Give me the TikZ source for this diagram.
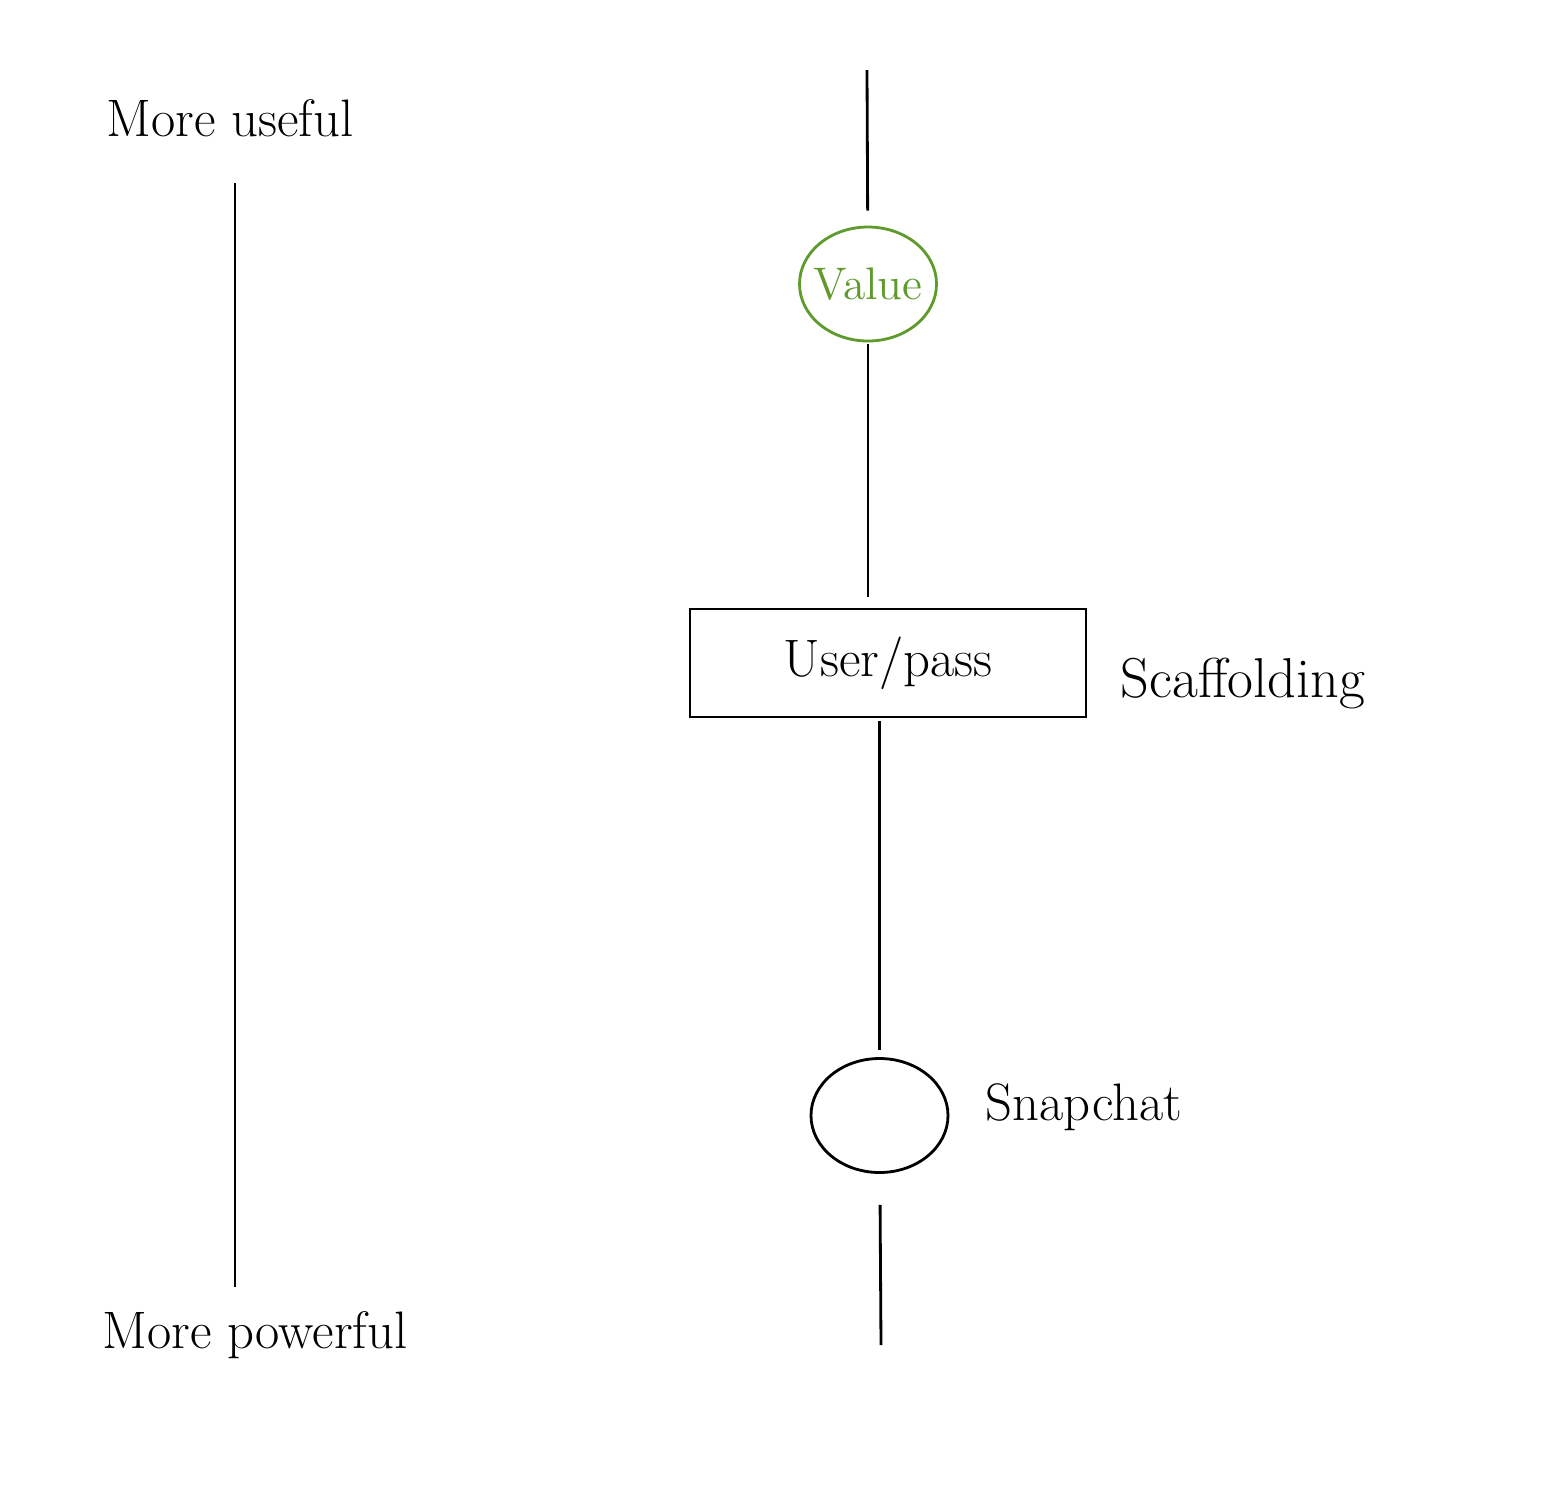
\documentclass[tikz,border=0pt]{standalone}
\usepackage{xcolor}
\usetikzlibrary{shapes.geometric}
\definecolor{valuegreen}{HTML}{5F9A2C}
\tikzset{
  stroke/.style={line width=0.8pt, black},
  lbl/.style={font=\fontsize{15}{18}\selectfont, inner sep=0pt},
  oval/.style={ellipse, draw, line width=0.8pt, minimum width=1.37cm, minimum height=1.14cm, inner sep=0pt}
}
\begin{document}
\begin{tikzpicture}
\useasboundingbox (0,0) rectangle (15.44,-14.86);

% left axis
\node[lbl] (useful) at (2.30,-1.18) {More useful};
\node[lbl] (powerful) at (2.55,-13.35) {More powerful};
\coordinate (axtop) at (2.35,-1.83);
\coordinate (axbot) at (2.35,-12.87);
\draw[stroke] (axtop) -- (axbot);

% main line
\coordinate (top) at (8.67,-0.70);
\node[oval, draw=valuegreen, text=valuegreen, inner xsep=-0.12cm, font=\fontsize{13}{16}\selectfont] (value) at (8.68,-2.84) {Value};
\node[draw, line width=0.8pt, minimum width=3.96cm, minimum height=1.08cm, font=\fontsize{15}{18}\selectfont] (user) at (8.88,-6.63) {User/pass};
\node[lbl, anchor=west, font=\fontsize{16}{19}\selectfont] (scaff) at (11.20,-6.83) {Scaffolding};
\node[oval] (snap) at (8.795,-11.155) {};
\node[lbl, anchor=west] (snaplbl) at (9.85,-11.07) {Snapchat};
\coordinate (bottom) at (8.81,-13.45);

\draw[stroke, shorten >=0.15cm] (top) -- (value);
\draw[stroke, shorten <=0.02cm, shorten >=0.11cm] (value) -- (value |- user.north);
\draw[stroke, shorten <=0.03cm, shorten >=0.07cm] (user.south -| snap) -- (snap);
\draw[stroke, shorten <=0.31cm] (snap) -- (bottom);
\end{tikzpicture}
\end{document}
